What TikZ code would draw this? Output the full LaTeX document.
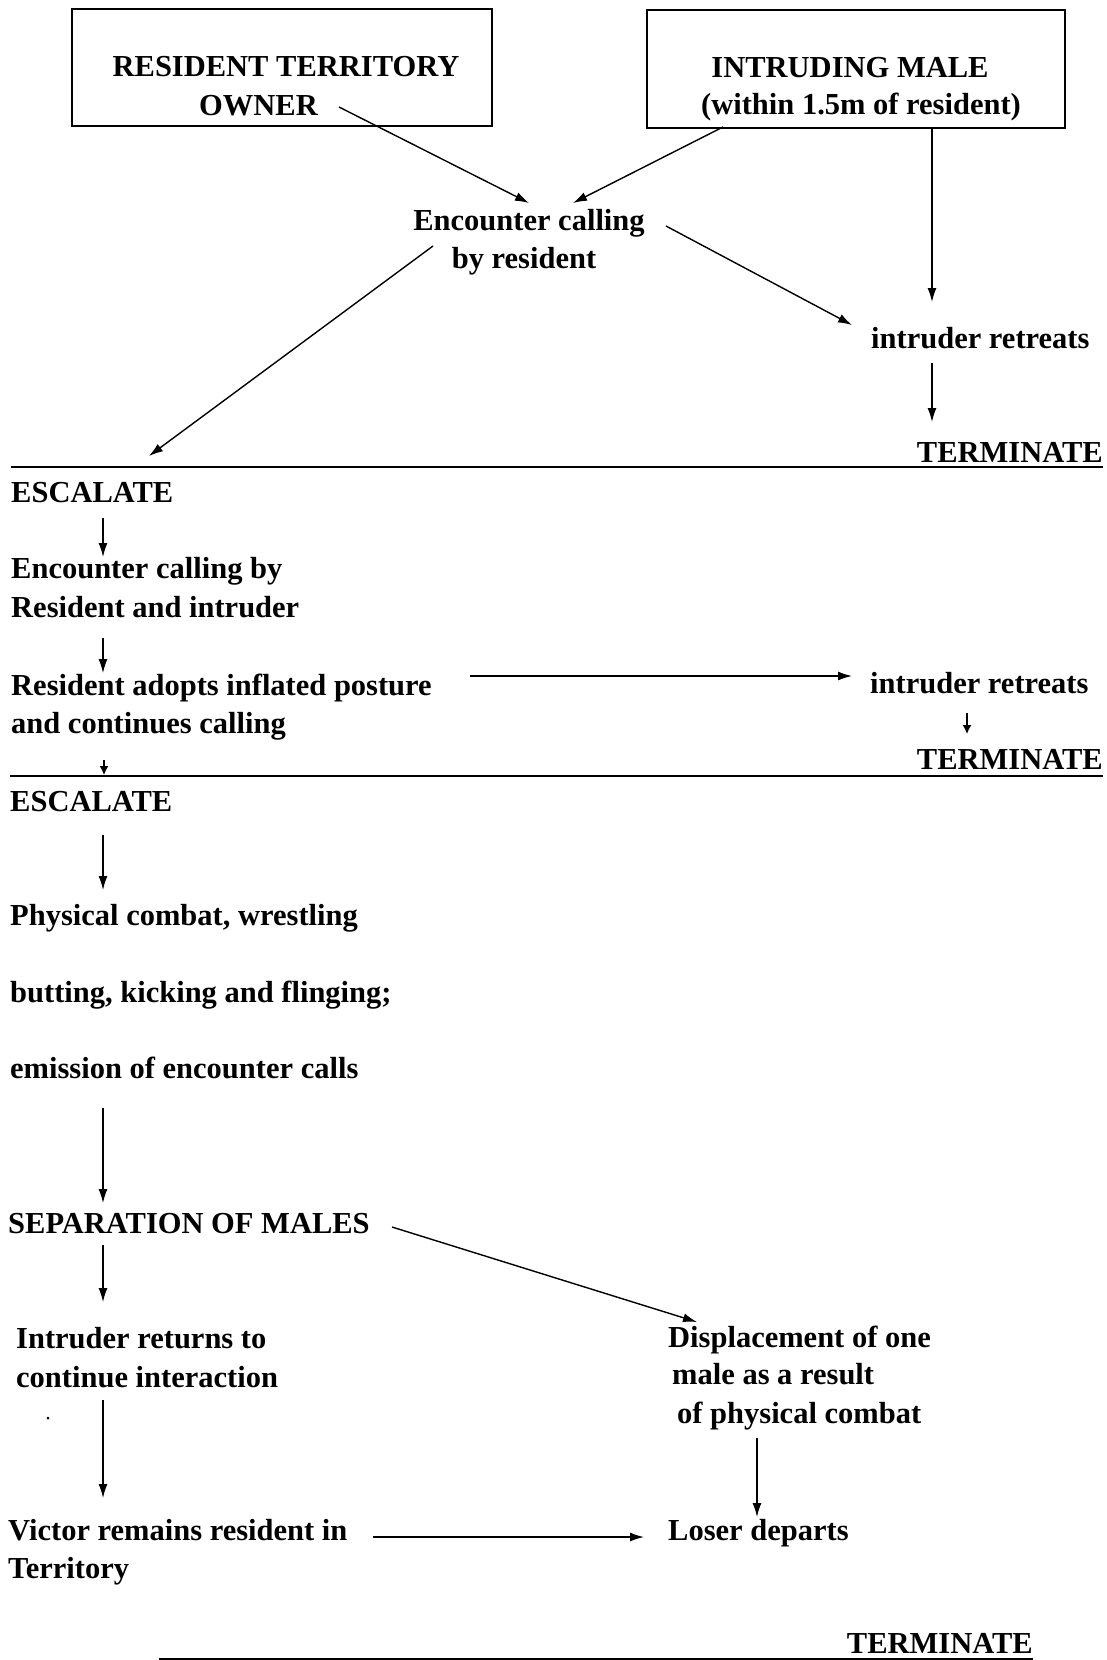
\documentclass[tikz,border=0pt]{standalone}
\usepackage{fontspec}
\setmainfont{Liberation Serif}
\usetikzlibrary{arrows.meta}
\begin{document}
\begin{tikzpicture}[x=1pt,y=-1pt,
  txt/.style={inner sep=0pt, anchor=base west, font=\fontsize{30.5}{38}\selectfont\bfseries},
  ctxt/.style={txt, anchor=base},
  rtxt/.style={txt, anchor=base east},
  box/.style={draw, line width=1.5pt, inner sep=0pt},
  arr/.style={line width=1.4pt, -{Latex[length=14pt,width=9pt]}},
  sarr/.style={line width=1.4pt, -{Latex[length=9pt,width=9pt]}},
  sepline/.style={line width=1.6pt}]
\useasboundingbox (0,0) rectangle (1107,1660);

% boxes
\node[box, minimum width=420pt, minimum height=117pt] (resbox) at (282,67.5) {};
\node[box, minimum width=418pt, minimum height=118pt] (intbox) at (856,69) {};
\node[ctxt] (res1) at (286,76) {RESIDENT TERRITORY};
\node[txt] (owner) at (199,115) {OWNER};
\node[ctxt] (int1) at (850,77) {INTRUDING MALE};
\node[ctxt] (int2) at (861,114) {(within 1.5m of resident)};

% top section
\node[ctxt] (enc1a) at (529,230) {Encounter calling};
\node[ctxt] (enc1b) at (524,268) {by resident};
\node[txt] (ret1) at (871,348) {intruder retreats};
\node[rtxt] (term1) at (1103,462) {TERMINATE};
\coordinate (l1a) at (11,467);
\coordinate (l1b) at (1103,467);
\draw[sepline] (l1a) -- (l1b);

% second section
\node[txt] (esc1) at (11,502) {ESCALATE};
\node[txt] (enc2a) at (11,578) {Encounter calling by};
\node[txt] (enc2b) at (11,617) {Resident and intruder};
\node[txt] (adopt1) at (11,695) {Resident adopts inflated posture};
\node[txt] (adopt2) at (11,733) {and continues calling};
\node[txt] (ret2) at (870,693) {intruder retreats};
\node[rtxt] (term2) at (1103,769) {TERMINATE};
\coordinate (l2a) at (10,776);
\coordinate (l2b) at (1103,776);
\draw[sepline] (l2a) -- (l2b);

% third section
\node[txt] (esc2) at (10,811) {ESCALATE};
\node[txt] (phys) at (10,925) {Physical combat, wrestling};
\node[txt] (butt) at (10,1002) {butting, kicking and flinging;};
\node[txt] (emis) at (10,1078) {emission of encounter calls};
\node[txt] (sepm) at (8,1233) {SEPARATION OF MALES};
\node[txt] (intr1) at (16,1348) {Intruder returns to};
\node[txt] (intr2) at (16,1387) {continue interaction};
\node[txt] (disp1) at (668,1347) {Displacement of one};
\node[txt] (disp2) at (672,1384) {male as a result};
\node[txt] (disp3) at (677,1423) {of physical combat};
\node[txt] (vict1) at (8,1540) {Victor remains resident in};
\node[txt] (vict2) at (8,1578) {Territory};
\node[txt] (loser) at (668,1540) {Loser departs};
\node[rtxt] (term3) at (1033,1653) {TERMINATE};
\coordinate (l3a) at (159,1659);
\coordinate (l3b) at (1033,1659);
\draw[sepline] (l3a) -- (l3b);
\fill (48,1418) circle (1.5pt);

% arrow end points
\coordinate (a1s) at (339,107);  \coordinate (a1e) at (529,203);
\coordinate (a2s) at (723,127);  \coordinate (a2e) at (573,203);
\coordinate (a3s) at (433,246);  \coordinate (a3e) at (149,456);
\coordinate (a4s) at (666,226);  \coordinate (a4e) at (852,325);
\coordinate (a5s) at (932,129);  \coordinate (a5e) at (932,302);
\coordinate (a6s) at (932,363);  \coordinate (a6e) at (932,422);
\coordinate (a7s) at (103,518);  \coordinate (a7e) at (103,557);
\coordinate (a8s) at (103,638);  \coordinate (a8e) at (103,673);
\coordinate (a9s) at (470,676);  \coordinate (a9e) at (852,676);
\coordinate (a10s) at (967,713); \coordinate (a10e) at (967,734);
\coordinate (a11s) at (104,760); \coordinate (a11e) at (104,775);
\coordinate (a12s) at (103,835); \coordinate (a12e) at (103,890);
\coordinate (a13s) at (103,1108); \coordinate (a13e) at (103,1203);
\coordinate (a14s) at (392,1227); \coordinate (a14e) at (697,1322);
\coordinate (a15s) at (103,1245); \coordinate (a15e) at (103,1302);
\coordinate (a16s) at (103,1400); \coordinate (a16e) at (103,1498);
\coordinate (a17s) at (757,1438); \coordinate (a17e) at (757,1517);
\coordinate (a18s) at (373,1537); \coordinate (a18e) at (644,1537);

\draw[arr] (a1s) -- (a1e);
\draw[arr] (a2s) -- (a2e);
\draw[arr] (a3s) -- (a3e);
\draw[arr] (a4s) -- (a4e);
\draw[arr] (a5s) -- (a5e);
\draw[arr] (a6s) -- (a6e);
\draw[arr] (a7s) -- (a7e);
\draw[arr] (a8s) -- (a8e);
\draw[arr] (a9s) -- (a9e);
\draw[sarr] (a10s) -- (a10e);
\draw[sarr] (a11s) -- (a11e);
\draw[arr] (a12s) -- (a12e);
\draw[arr] (a13s) -- (a13e);
\draw[arr] (a14s) -- (a14e);
\draw[arr] (a15s) -- (a15e);
\draw[arr] (a16s) -- (a16e);
\draw[arr] (a17s) -- (a17e);
\draw[arr] (a18s) -- (a18e);
\end{tikzpicture}
\end{document}
